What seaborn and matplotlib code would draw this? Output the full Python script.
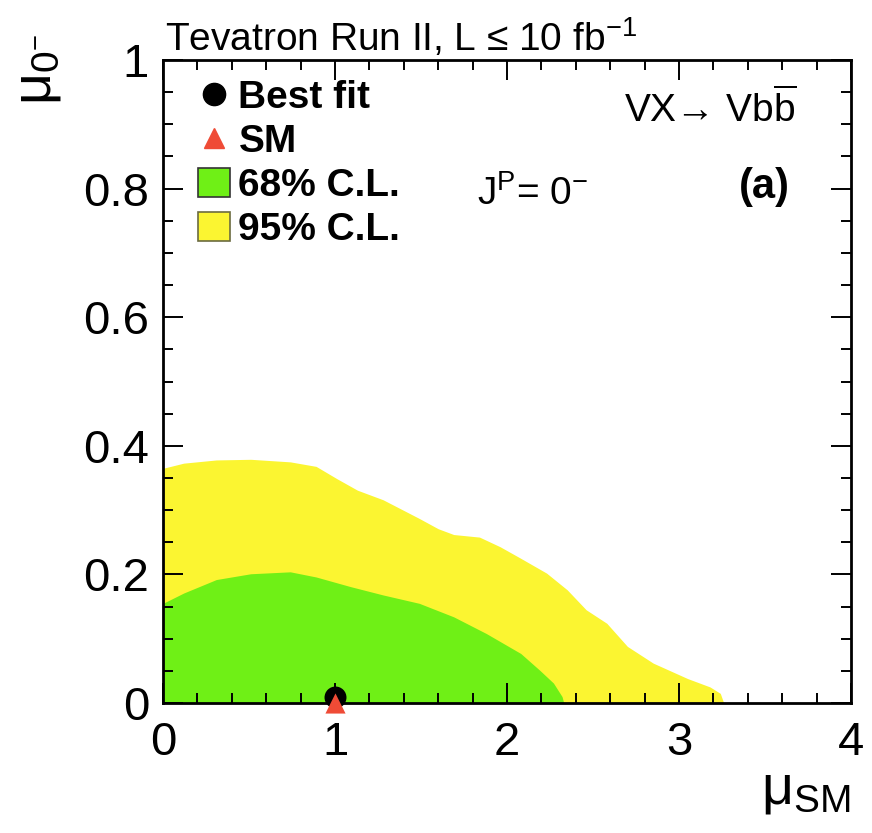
import numpy as np
import pandas as pd
import seaborn as sns
import matplotlib
matplotlib.use("Agg")
import matplotlib.pyplot as plt
from matplotlib.lines import Line2D
from matplotlib.patches import Patch
from matplotlib.ticker import MultipleLocator

# 95% C.L. region boundary (mu_SM, upper mu_0-)
cl95_x = [0.00, 0.12, 0.31, 0.51, 0.74, 0.89, 1.01, 1.13, 1.28, 1.49, 1.60, 1.69,
          1.84, 1.96, 2.08, 2.23, 2.35, 2.46, 2.58, 2.70, 2.85, 3.05, 3.18, 3.24, 3.26]
cl95_y = [0.365, 0.373, 0.378, 0.379, 0.375, 0.368, 0.349, 0.331, 0.316, 0.287, 0.271, 0.262,
          0.258, 0.243, 0.225, 0.202, 0.176, 0.145, 0.124, 0.088, 0.062, 0.038, 0.025, 0.015, 0.0]

# 68% C.L. region boundary
cl68_x = [0.00, 0.12, 0.31, 0.51, 0.74, 0.89, 1.09, 1.28, 1.49, 1.69, 1.88, 2.08,
          2.19, 2.27, 2.32, 2.33]
cl68_y = [0.155, 0.171, 0.192, 0.201, 0.204, 0.196, 0.181, 0.168, 0.155, 0.134, 0.108, 0.077,
          0.051, 0.031, 0.010, 0.0]

best_fit = (1.0, 0.01)
sm_point = (1.0, 0.0)

x_ticks = [0, 1, 2, 3, 4]
x_ticklabels = ["0", "1", "2", "3", "4"]
y_ticks = [0.0, 0.2, 0.4, 0.6, 0.8, 1.0]
y_ticklabels = ["0", "0.2", "0.4", "0.6", "0.8", "1"]

legend_labels = ["Best fit", "SM", "68% C.L.", "95% C.L."]

GREEN = "#6ff016"
YELLOW = "#fbf531"
RED = "#ef4b36"

sns.set_style("ticks")
plt.rcParams["font.family"] = ["Liberation Sans", "DejaVu Sans"]
plt.rcParams["mathtext.fontset"] = "custom"
plt.rcParams["mathtext.rm"] = "Liberation Sans"
plt.rcParams["mathtext.it"] = "Liberation Sans:italic"
plt.rcParams["mathtext.bf"] = "Liberation Sans:bold"
for key in ["text.color", "axes.labelcolor", "xtick.color", "ytick.color", "axes.edgecolor"]:
    plt.rcParams[key] = "black"

W, H = 872, 833
fig = plt.figure(figsize=(W / 100, H / 100), dpi=100)
fig.patch.set_facecolor("white")
ax = fig.add_axes([163 / W, 1 - 703 / H, 688 / W, 643 / H])
ax.set_facecolor("white")

# confidence regions
ax.fill_between(cl95_x, 0, cl95_y, color=YELLOW, lw=0, zorder=1)
ax.fill_between(cl68_x, 0, cl68_y, color=GREEN, lw=0, zorder=2)

# best fit and SM points
pts = pd.DataFrame({"x": [best_fit[0]], "y": [best_fit[1]]})
sns.scatterplot(data=pts, x="x", y="y", ax=ax, marker="o", s=250, color="black",
                edgecolor="black", linewidth=0, zorder=5, clip_on=False, legend=False)
sm = pd.DataFrame({"x": [sm_point[0]], "y": [sm_point[1]]})
sns.scatterplot(data=sm, x="x", y="y", ax=ax, marker="^", s=210, color=RED,
                edgecolor=RED, linewidth=0, zorder=6, clip_on=False, legend=False)

ax.set_xlim(0, 4)
ax.set_ylim(0, 1)
ax.set_xticks(x_ticks)
ax.set_xticklabels(x_ticklabels)
ax.set_yticks(y_ticks)
ax.set_yticklabels(y_ticklabels)
ax.xaxis.set_minor_locator(MultipleLocator(0.2))
ax.yaxis.set_minor_locator(MultipleLocator(0.05))
ax.tick_params(which="both", direction="in", top=True, right=True, color="black",
               labelcolor="black")
ax.tick_params(which="major", length=14.5, width=1.4, labelsize=34)
ax.tick_params(which="minor", length=7.2, width=1.4)
ax.tick_params(axis="x", which="major", pad=13)
ax.tick_params(axis="y", which="major", pad=10)
for s in ax.spines.values():
    s.set_linewidth(2.0)
    s.set_color("black")
    s.set_zorder(4)
ax.set_axisbelow(False)

ax.set_xlabel(r"$\mathrm{\mu}_{\mathrm{SM}}$", fontsize=40, loc="right")
ax.xaxis.set_label_coords(1.0, -0.095)
ax.set_ylabel(r"$\mathrm{\mu}_{0^{-}}$", fontsize=40, loc="top")
ax.yaxis.set_label_coords(-0.145, 1.04)


def fx(px):
    return px / W


def fy(py):
    return 1 - py / H


fig.text(fx(165), fy(51), "Tevatron Run II, L \u2264 10 fb$^{-1}$", fontsize=28,
         ha="left", va="baseline")
fig.text(fx(797), fy(122), "VX\u2192 Vb$\\overline{\\mathrm{b}}$", fontsize=28,
         ha="right", va="baseline")
fig.text(fx(477), fy(205), r"J$^{\mathrm{P}}$= 0$^{-}$", fontsize=28,
         ha="left", va="baseline")
fig.text(fx(790), fy(198), "(a)", fontsize=30, fontweight="bold",
         ha="right", va="baseline")

handles = [
    Line2D([], [], marker="o", color="black", linestyle="none", markersize=16),
    Line2D([], [], marker="^", color=RED, linestyle="none", markersize=14),
    Patch(facecolor=GREEN, edgecolor="#333333", linewidth=1.2),
    Patch(facecolor=YELLOW, edgecolor="#6b6b40", linewidth=1.2),
]
leg = ax.legend(handles, legend_labels, loc="upper left",
                bbox_to_anchor=((198 - 163) / 688, (703 - 80) / 643),
                frameon=False, borderpad=0, borderaxespad=0,
                handlelength=0.82, handleheight=0.78, handletextpad=0.22,
                labelspacing=0.2, prop={"size": 28, "weight": "bold"})

fig.savefig("out.png", dpi=100, facecolor="white")
